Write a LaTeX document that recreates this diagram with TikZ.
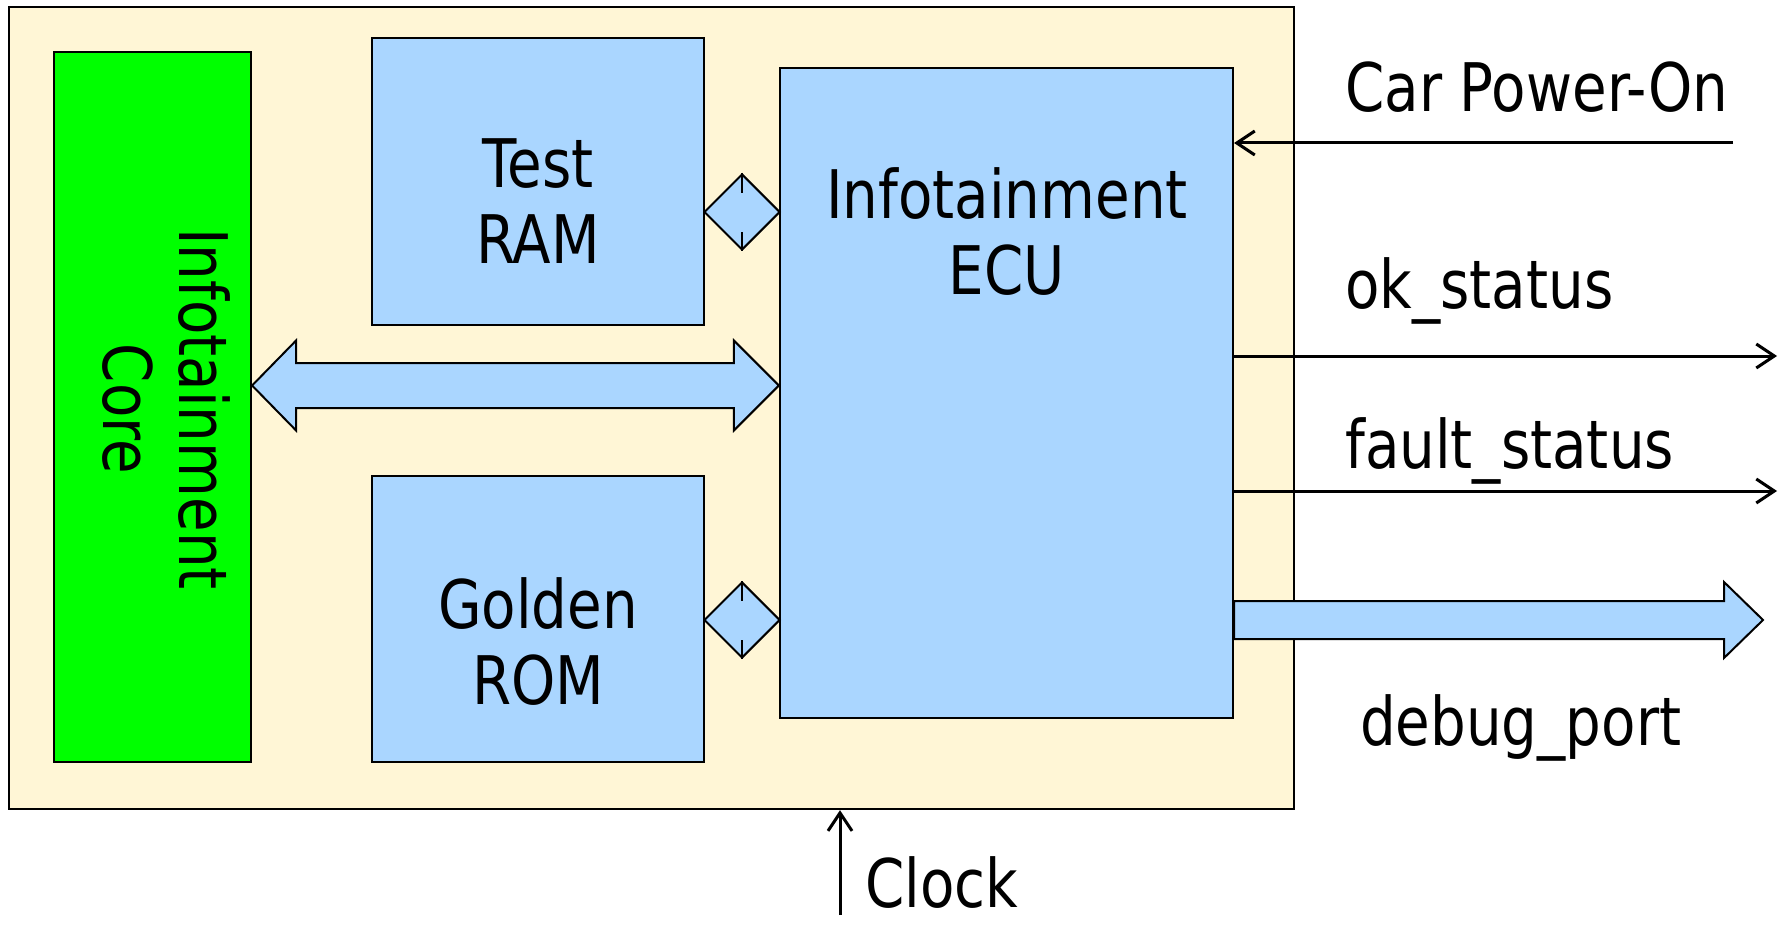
\documentclass[tikz,border=0pt]{standalone}
\usepackage{fontspec}
\setmainfont[FakeStretch=0.84]{DejaVu Sans}
\usetikzlibrary{shapes.geometric,arrows.meta,calc}
\definecolor{cream}{RGB}{255,246,214}
\definecolor{lblue}{RGB}{170,214,255}
\definecolor{lgreen}{RGB}{0,255,0}
\begin{document}
\begin{tikzpicture}[x=1pt,y=-1pt,
  every node/.style={font=\fontsize{67}{76}\selectfont},
  blk/.style={draw=black, line width=2.2pt, fill=lblue, rectangle, inner sep=0pt},
  lbl/.style={align=center, inner sep=0pt},
  sig/.style={line width=3pt, -{Straight Barb[length=18pt,width=24pt]}},
  bigarrow/.style={draw=black, line width=2pt, fill=lblue, line join=miter},
  dmd/.style={draw=black, line width=2pt, fill=lblue, diamond, aspect=1, inner sep=0pt, minimum width=76pt, minimum height=76pt},
  stem/.style={line width=2pt},
  sidelbl/.style={anchor=base west, inner sep=0pt}]
\path[fill=white, use as bounding box] (0,0) rectangle (1787,925);
% system box
\node[draw=black, line width=2.4pt, fill=cream, rectangle, inner sep=0pt,
      minimum width=1285pt, minimum height=802pt] (sys) at (651.5,408) {};
% blocks
\node[blk, fill=lgreen, minimum width=197pt, minimum height=710pt] (core) at (152.5,407) {};
\node[lbl, rotate=-90] (coret) at (166,409) {Infotainment\\Core};
\node[blk, minimum width=332pt, minimum height=287pt] (ram) at (538,181.5) {};
\node[lbl] (ramt) at (538,201) {Test\\RAM};
\node[blk, minimum width=332pt, minimum height=286pt] (rom) at (538,619) {};
\node[lbl] (romt) at (538,642) {Golden\\ROM};
\node[blk, minimum width=453pt, minimum height=650pt] (ecu) at (1006.5,393) {};
\node[lbl] (ecut) at (1007,232) {Infotainment\\ECU};
% diamond connectors
\node[dmd] (d1) at ($(ram.east |- 0,212)!0.5!(ecu.west |- 0,212)$) {};
\draw[stem] (d1.north) -- ++(0,20);
\draw[stem] (d1.south) -- ++(0,-19);
\node[dmd] (d2) at ($(rom.east |- 0,620)!0.5!(ecu.west |- 0,620)$) {};
\draw[stem] (d2.north) -- ++(0,20);
\draw[stem] (d2.south) -- ++(0,-19);
% big double arrow core <-> ecu
\coordinate (bl) at (core.east |- 0,385.5);
\coordinate (br) at (ecu.west |- 0,385.5);
\draw[bigarrow] (bl) -- ($(bl)+(44,-45)$) -- ($(bl)+(44,-22.5)$) -- ($(br)+(-45,-22.5)$)
  -- ($(br)+(-45,-45)$) -- (br) -- ($(br)+(-45,45)$) -- ($(br)+(-45,22.5)$)
  -- ($(bl)+(44,22.5)$) -- ($(bl)+(44,45)$) -- cycle;
% debug port arrow
\coordinate (ds) at (ecu.east |- 0,620);
\coordinate (dt) at (1763,620);
\draw[bigarrow] (ds) -- ($(ds)+(0,-19)$) -- ($(dt)+(-39,-19)$) -- ($(dt)+(-39,-38)$) -- (dt)
  -- ($(dt)+(-39,38)$) -- ($(dt)+(-39,19)$) -- ($(ds)+(0,19)$) -- cycle;
% signal lines
\coordinate (pwr) at (1733,143);
\draw[sig] (pwr) -- (ecu.east |- pwr);
\coordinate (okend) at (1777,356);
\draw[sig] (ecu.east |- okend) -- (okend);
\coordinate (fltend) at (1777,491);
\draw[sig] (ecu.east |- fltend) -- (fltend);
\coordinate (clk) at (840,915);
\draw[sig] (clk) -- (sys.south -| clk);
% labels
\node[sidelbl] (pwrt) at (1345,112) {Car Power-On};
\node[sidelbl] (okt) at (1345,308) {ok\_status};
\node[sidelbl] (fltt) at (1345,468) {fault\_status};
\node[sidelbl] (dbgt) at (1360,745) {debug\_port};
\node[sidelbl] (clkt) at (865,907) {Clock};
\end{tikzpicture}
\end{document}
